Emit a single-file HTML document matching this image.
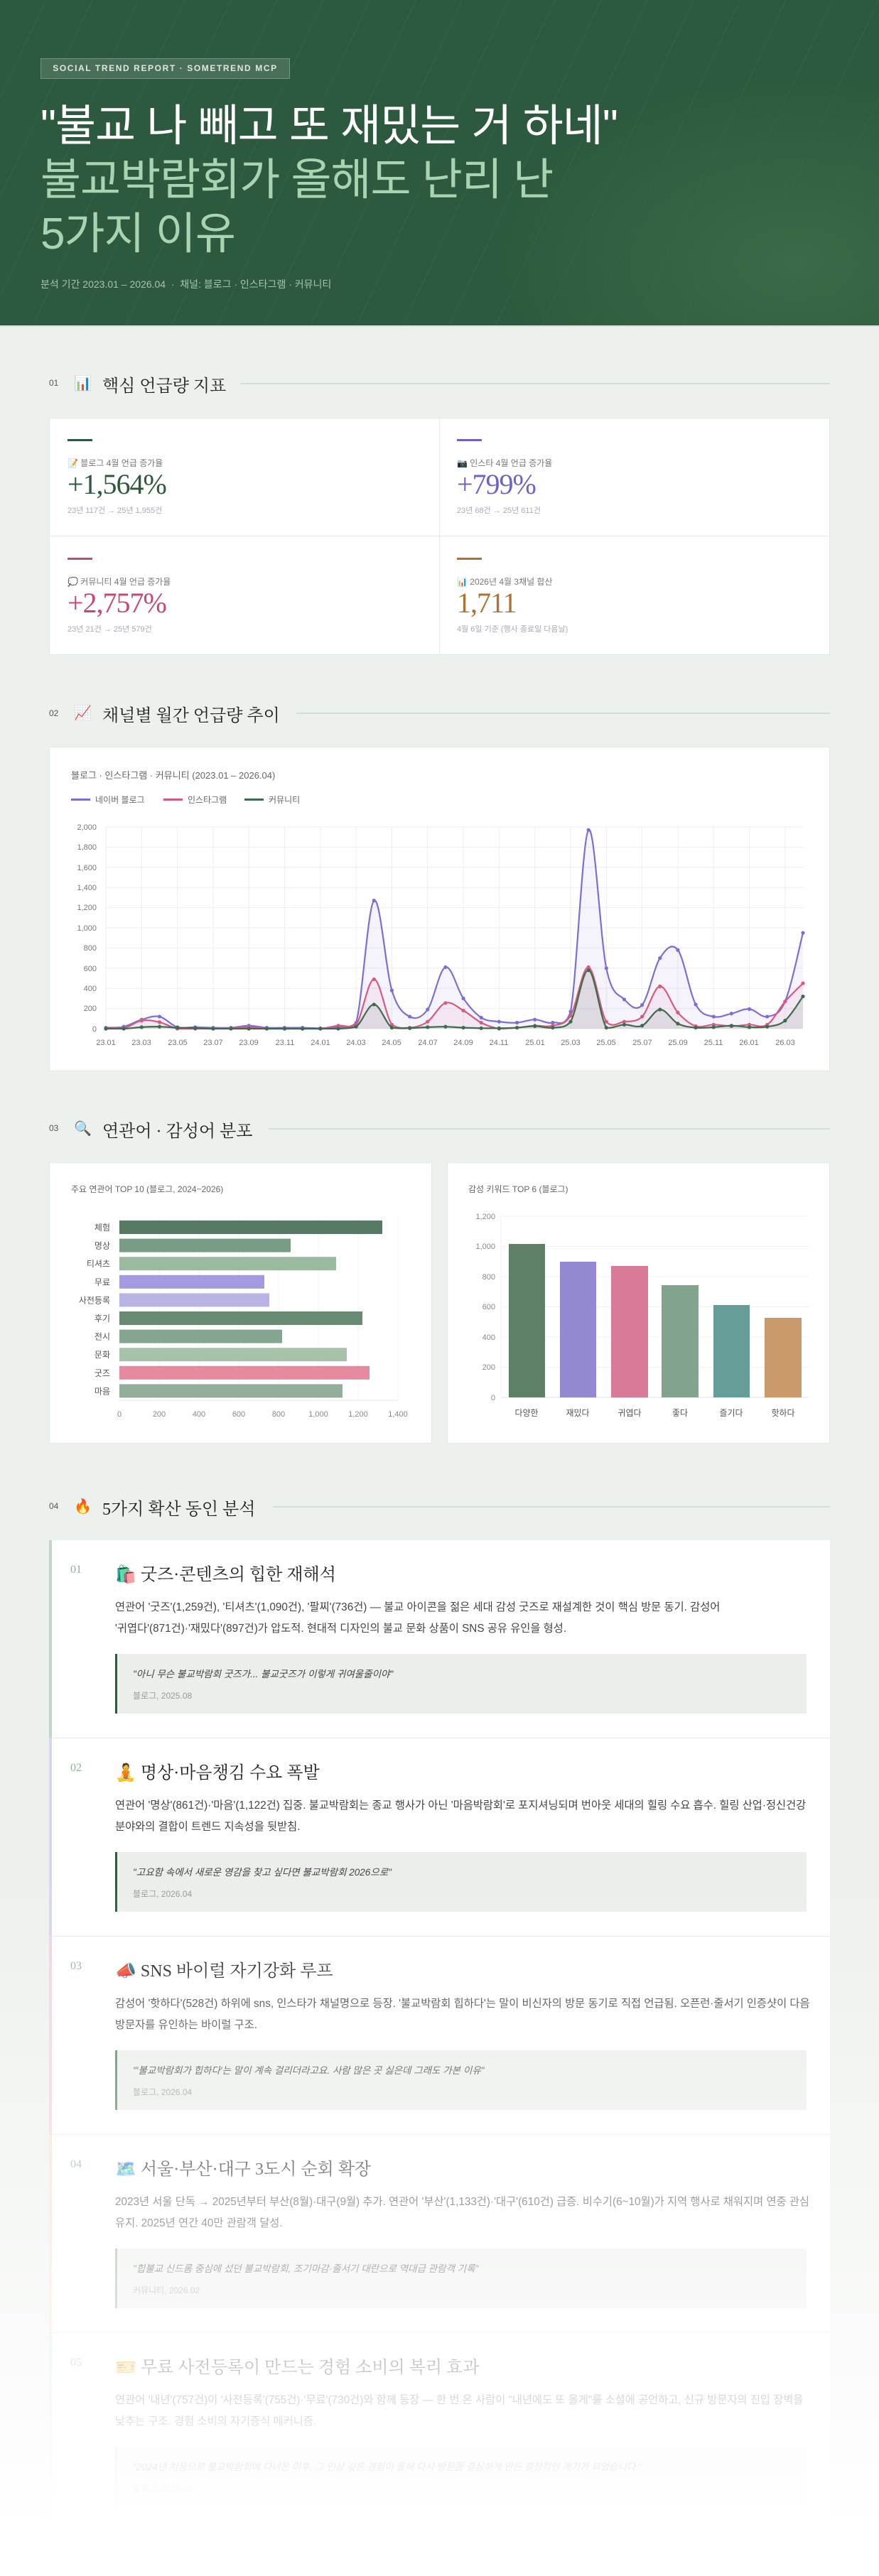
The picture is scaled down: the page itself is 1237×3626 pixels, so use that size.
<!DOCTYPE html>
<html><head><meta charset="utf-8">
<style>
*{margin:0;padding:0;box-sizing:border-box}
body{width:1237px;height:3626px;overflow:hidden;background:#edf1ed;font-family:"Liberation Sans","Noto Sans CJK KR",sans-serif;position:relative;color:#333}
.abs{position:absolute}
.serif{font-family:"Liberation Serif","Noto Serif CJK KR",serif}
#hdr{left:0;top:0;width:1237px;height:460px;background:radial-gradient(ellipse 420px 260px at 1120px 370px,#3a6a48 0%,rgba(58,106,72,0) 100%),repeating-linear-gradient(115deg,rgba(255,255,255,0) 0 58px,rgba(255,255,255,0.035) 58px 59px),#2d5a3e;border-bottom:2px solid #d9e1da}
.badge{left:57px;top:82px;width:351px;height:29px;background:rgba(255,255,255,0.13);border:1px solid rgba(255,255,255,0.25);color:#dfe8df;font-size:12px;letter-spacing:1.6px;font-weight:bold;line-height:27px;text-align:center}
.t1{left:57px;top:140px;font-size:62px;line-height:76px;color:#fff;letter-spacing:-1px;white-space:nowrap}
.t2{left:57px;top:216px;font-size:62px;line-height:76px;color:#a8d4b2;letter-spacing:-1px;white-space:nowrap}
.sub{left:57px;top:390px;font-size:14px;color:#a9c1ae}
.sec{font-size:24px;color:#222;white-space:nowrap}
.secn{font-size:12px;color:#555;font-family:"Liberation Sans",sans-serif}
.secl{height:2px;background:#d7ded8}
.card{background:#fff;border:1px solid #e4e9e5}
.kbar{width:35px;height:3px}
.klab{font-size:12px;color:#777;white-space:nowrap}
.knum{font-size:40px;white-space:nowrap;letter-spacing:-1px}
.ksub{font-size:11px;color:#aab;white-space:nowrap}
.item{left:69px;width:1099px;height:279px;background:#fff;border-left:4px solid #c5d3c8;border-bottom:1px solid #e6ebe7}
.inum{position:absolute;left:26px;top:33px;font-size:16px;color:#8fb09a}
.ititle{position:absolute;left:89px;top:28px;font-size:24px;color:#222;white-space:nowrap}
.ipara{position:absolute;left:89px;top:80px;width:980px;font-size:15.3px;line-height:30px;color:#444;word-break:keep-all}
.iq{position:absolute;left:89px;top:160px;width:973px;height:84px;background:#ebeeeb;border-left:3px solid #2d5a3c;padding:17px 0 0 22px}
.iq .q{font-size:13.5px;font-style:italic;color:#444;white-space:nowrap}
.iq .s{font-size:12px;color:#999;margin-top:13px}
</style></head><body>
<div id="hdr" class="abs"></div>
<div class="abs badge">SOCIAL TREND REPORT · SOMETREND MCP</div>
<div class="abs t1">"불교 나 빼고 또 재밌는 거 하네"</div>
<div class="abs t2">불교박람회가 올해도 난리 난<br>5가지 이유</div>
<div class="abs sub">분석 기간 2023.01 – 2026.04 &nbsp;·&nbsp; 채널: 블로그 · 인스타그램 · 커뮤니티</div>

<!-- section 01 -->
<div class="abs secn" style="left:69px;top:532px">01</div>
<div class="abs" style="left:104px;top:527px;font-size:20px">📊</div>
<div class="abs sec serif" style="left:144px;top:523px">핵심 언급량 지표</div>
<div class="abs secl" style="left:338px;top:539px;width:830px"></div>

<div class="abs card" style="left:69px;top:588px;width:1099px;height:334px"></div>
<div class="abs" style="left:618px;top:588px;width:1px;height:334px;background:#e6ebe7"></div>
<div class="abs" style="left:69px;top:754px;width:1099px;height:1px;background:#e6ebe7"></div>

<div class="abs kbar" style="left:95px;top:618px;background:#2d5a3c"></div>
<div class="abs klab" style="left:95px;top:643px">📝 블로그 4월 언급 증가율</div>
<div class="abs knum serif" style="left:95px;top:658px;color:#2d5a3c">+1,564%</div>
<div class="abs ksub" style="left:95px;top:710px">23년 117건 → 25년 1,955건</div>

<div class="abs kbar" style="left:643px;top:618px;background:#6e62c8"></div>
<div class="abs klab" style="left:643px;top:643px">📷 인스타 4월 언급 증가율</div>
<div class="abs knum serif" style="left:643px;top:658px;color:#6e62c8">+799%</div>
<div class="abs ksub" style="left:643px;top:710px">23년 68건 → 25년 611건</div>

<div class="abs kbar" style="left:95px;top:785px;background:#c8496e"></div>
<div class="abs klab" style="left:95px;top:810px">💭 커뮤니티 4월 언급 증가율</div>
<div class="abs knum serif" style="left:95px;top:825px;color:#c8496e">+2,757%</div>
<div class="abs ksub" style="left:95px;top:877px">23년 21건 → 25년 579건</div>

<div class="abs kbar" style="left:643px;top:785px;background:#b07230"></div>
<div class="abs klab" style="left:643px;top:810px">📊 2026년 4월 3채널 합산</div>
<div class="abs knum serif" style="left:643px;top:825px;color:#b07230">1,711</div>
<div class="abs ksub" style="left:643px;top:877px">4월 6일 기준 (행사 종료일 다음날)</div>

<!-- section 02 -->
<div class="abs secn" style="left:69px;top:997px">02</div>
<div class="abs" style="left:104px;top:991px;font-size:20px">📈</div>
<div class="abs sec serif" style="left:144px;top:987px">채널별 월간 언급량 추이</div>
<div class="abs secl" style="left:417px;top:1003px;width:751px"></div>

<div class="abs card" style="left:69px;top:1051px;width:1099px;height:457px"></div>
<div class="abs" style="left:100px;top:1081px;font-size:13px;color:#666">블로그 · 인스타그램 · 커뮤니티 (2023.01 – 2026.04)</div>
<div class="abs" style="left:100px;top:1124px;width:27px;height:3px;background:#7b6fd6"></div>
<div class="abs" style="left:134px;top:1117px;font-size:12px;color:#666">네이버 블로그</div>
<div class="abs" style="left:230px;top:1124px;width:27px;height:3px;background:#d65a80"></div>
<div class="abs" style="left:264px;top:1117px;font-size:12px;color:#666">인스타그램</div>
<div class="abs" style="left:344px;top:1124px;width:27px;height:3px;background:#3d6b4b"></div>
<div class="abs" style="left:378px;top:1117px;font-size:12px;color:#666">커뮤니티</div>

<svg class="abs" style="left:0;top:1051px" width="1237" height="460" font-family="Liberation Sans, sans-serif" font-size="11" fill="#777">
<g id="grid" stroke="#eeeeee" stroke-width="1"></g>
<g text-anchor="end">
<text x="136" y="117">2,000</text><text x="136" y="145">1,800</text><text x="136" y="174">1,600</text><text x="136" y="202">1,400</text><text x="136" y="230">1,200</text><text x="136" y="259">1,000</text><text x="136" y="287">800</text><text x="136" y="316">600</text><text x="136" y="344">400</text><text x="136" y="372">200</text><text x="136" y="401">0</text>
</g>
<g id="xl" text-anchor="middle">
<text x="149" y="420">23.01</text><text x="199" y="420">23.03</text><text x="250" y="420">23.05</text><text x="300" y="420">23.07</text><text x="350" y="420">23.09</text><text x="401" y="420">23.11</text><text x="451" y="420">24.01</text><text x="501" y="420">24.03</text><text x="551" y="420">24.05</text><text x="602" y="420">24.07</text><text x="652" y="420">24.09</text><text x="702" y="420">24.11</text><text x="753" y="420">25.01</text><text x="803" y="420">25.03</text><text x="853" y="420">25.05</text><text x="904" y="420">25.07</text><text x="954" y="420">25.09</text><text x="1004" y="420">25.11</text><text x="1054" y="420">26.01</text><text x="1105" y="420">26.03</text>
</g>
<g id="series"></g>
</svg>

<!-- section 03 -->
<div class="abs secn" style="left:69px;top:1581px">03</div>
<div class="abs" style="left:104px;top:1576px;font-size:20px">🔍</div>
<div class="abs sec serif" style="left:144px;top:1572px">연관어 · 감성어 분포</div>
<div class="abs secl" style="left:378px;top:1588px;width:790px"></div>

<div class="abs card" style="left:69px;top:1636px;width:539px;height:396px"></div>
<div class="abs card" style="left:629px;top:1636px;width:539px;height:396px"></div>
<div class="abs" style="left:100px;top:1665px;font-size:12px;color:#666">주요 연관어 TOP 10 (블로그, 2024~2026)</div>
<div class="abs" style="left:659px;top:1665px;font-size:12px;color:#666">감성 키워드 TOP 6 (블로그)</div>

<svg class="abs" style="left:0;top:1636px" width="1237" height="396" font-family="Liberation Sans, Noto Sans CJK KR, sans-serif" font-size="11" fill="#666">
<g stroke="#f0f0f0"><line x1="168" y1="75" x2="168" y2="335"/><line x1="224" y1="75" x2="224" y2="335"/><line x1="280" y1="75" x2="280" y2="335"/><line x1="336" y1="75" x2="336" y2="335"/><line x1="392" y1="75" x2="392" y2="335"/><line x1="448" y1="75" x2="448" y2="335"/><line x1="504" y1="75" x2="504" y2="335"/><line x1="560" y1="75" x2="560" y2="335"/></g>
<line x1="168" y1="335" x2="560" y2="335" stroke="#e5e5e5"/>
<g text-anchor="middle" fill="#888"><text x="168" y="358">0</text><text x="224" y="358">200</text><text x="280" y="358">400</text><text x="336" y="358">600</text><text x="392" y="358">800</text><text x="448" y="358">1,000</text><text x="504" y="358">1,200</text><text x="560" y="358">1,400</text></g>
<g>
<rect x="168" y="82" width="370" height="19" fill="#587a64"/>
<rect x="168" y="107.6" width="241" height="19" fill="#789c84"/>
<rect x="168" y="133.2" width="305" height="19" fill="#9abba0"/>
<rect x="168" y="158.8" width="204" height="19" fill="#a39be0"/>
<rect x="168" y="184.4" width="211" height="19" fill="#b9b4e6"/>
<rect x="168" y="210" width="342" height="19" fill="#688a72"/>
<rect x="168" y="235.6" width="229" height="19" fill="#86a590"/>
<rect x="168" y="261.2" width="320" height="19" fill="#a6c3aa"/>
<rect x="168" y="286.8" width="352" height="19" fill="#e68aa0"/>
<rect x="168" y="312.4" width="314" height="19" fill="#93ae9a"/>
</g>
<g text-anchor="end" font-size="12" fill="#555">
<text x="155" y="96">체험</text><text x="155" y="121.6">명상</text><text x="155" y="147.2">티셔츠</text><text x="155" y="172.8">무료</text><text x="155" y="198.4">사전등록</text><text x="155" y="224">후기</text><text x="155" y="249.6">전시</text><text x="155" y="275.2">문화</text><text x="155" y="300.8">굿즈</text><text x="155" y="326.4">마음</text>
</g>
<g stroke="#f0f0f0"><line x1="705" y1="76" x2="1138" y2="76"/><line x1="705" y1="118.5" x2="1138" y2="118.5"/><line x1="705" y1="161" x2="1138" y2="161"/><line x1="705" y1="203.5" x2="1138" y2="203.5"/><line x1="705" y1="246" x2="1138" y2="246"/><line x1="705" y1="288.5" x2="1138" y2="288.5"/><line x1="705" y1="76" x2="705" y2="331"/></g>
<line x1="705" y1="331" x2="1138" y2="331" stroke="#e2e2e2"/>
<g text-anchor="end" fill="#888"><text x="697" y="80">1,200</text><text x="697" y="122">1,000</text><text x="697" y="165">800</text><text x="697" y="207">600</text><text x="697" y="250">400</text><text x="697" y="292">200</text><text x="697" y="335">0</text></g>
<rect x="716" y="115" width="51" height="216" fill="#5e8066"/>
<rect x="788" y="140" width="51" height="191" fill="#9389d2"/>
<rect x="860" y="146" width="52" height="185" fill="#d97b96"/>
<rect x="931" y="173" width="52" height="158" fill="#82a38c"/>
<rect x="1004" y="201" width="51" height="130" fill="#659e99"/>
<rect x="1076" y="219" width="52" height="112" fill="#c89a6c"/>
<g text-anchor="middle" font-size="12" fill="#555"><text x="741" y="357">다양한</text><text x="813" y="357">재밌다</text><text x="886" y="357">귀엽다</text><text x="957" y="357">좋다</text><text x="1029" y="357">즐기다</text><text x="1102" y="357">핫하다</text></g>
</svg>

<!-- section 04 -->
<div class="abs secn" style="left:69px;top:2113px">04</div>
<div class="abs" style="left:104px;top:2108px;font-size:20px">🔥</div>
<div class="abs sec serif" style="left:144px;top:2104px">5가지 확산 동인 분석</div>
<div class="abs secl" style="left:384px;top:2120px;width:784px"></div>

<div class="abs item" style="top:2168px;border-left-color:#c5d3c8">
<div class="inum serif">01</div>
<div class="ititle serif">🛍️ 굿즈·콘텐츠의 힙한 재해석</div>
<div class="ipara">연관어 '굿즈'(1,259건), '티셔츠'(1,090건), '팔찌'(736건) — 불교 아이콘을 젊은 세대 감성 굿즈로 재설계한 것이 핵심 방문 동기. 감성어 '귀엽다'(871건)·'재밌다'(897건)가 압도적. 현대적 디자인의 불교 문화 상품이 SNS 공유 유인을 형성.</div>
<div class="iq"><div class="q">"아니 무슨 불교박람회 굿즈가... 불교굿즈가 이렇게 귀여울줄이야"</div><div class="s">블로그, 2025.08</div></div>
</div>
<div class="abs item" style="top:2447px;border-left-color:#d8d4f2">
<div class="inum serif">02</div>
<div class="ititle serif">🧘 명상·마음챙김 수요 폭발</div>
<div class="ipara">연관어 '명상'(861건)·'마음'(1,122건) 집중. 불교박람회는 종교 행사가 아닌 '마음박람회'로 포지셔닝되며 번아웃 세대의 힐링 수요 흡수. 힐링 산업·정신건강 분야와의 결합이 트렌드 지속성을 뒷받침.</div>
<div class="iq"><div class="q">"고요함 속에서 새로운 영감을 찾고 싶다면 불교박람회 2026으로"</div><div class="s">블로그, 2026.04</div></div>
</div>
<div class="abs item" style="top:2726px;border-left-color:#f3d3db">
<div class="inum serif">03</div>
<div class="ititle serif">📣 SNS 바이럴 자기강화 루프</div>
<div class="ipara">감성어 '핫하다'(528건) 하위에 sns, 인스타가 채널명으로 등장. '불교박람회 힙하다'는 말이 비신자의 방문 동기로 직접 언급됨. 오픈런·줄서기 인증샷이 다음 방문자를 유인하는 바이럴 구조.</div>
<div class="iq" style="border-left-color:#5e8066"><div class="q">"'불교박람회가 힙하다'는 말이 계속 걸리더라고요. 사람 많은 곳 싫은데 그래도 가본 이유"</div><div class="s">블로그, 2026.04</div></div>
</div>
<div class="abs item" style="top:3005px;border-left-color:#f2e2cf">
<div class="inum serif">04</div>
<div class="ititle serif">🗺️ 서울·부산·대구 3도시 순회 확장</div>
<div class="ipara">2023년 서울 단독 → 2025년부터 부산(8월)·대구(9월) 추가. 연관어 '부산'(1,133건)·'대구'(610건) 급증. 비수기(6~10월)가 지역 행사로 채워지며 연중 관심 유지. 2025년 연간 40만 관람객 달성.</div>
<div class="iq" style="border-left-color:#8fb09a"><div class="q">"힙불교 신드롬 중심에 섰던 불교박람회, 조기마감·줄서기 대란으로 역대급 관람객 기록"</div><div class="s">커뮤니티, 2026.02</div></div>
</div>
<div class="abs item" style="top:3284px;border-left-color:#d5e6ea">
<div class="inum serif">05</div>
<div class="ititle serif">🎫 무료 사전등록이 만드는 경험 소비의 복리 효과</div>
<div class="ipara">연관어 '내년'(757건)이 '사전등록'(755건)·'무료'(730건)와 함께 등장 — 한 번 온 사람이 "내년에도 또 올게"를 소셜에 공언하고, 신규 방문자의 진입 장벽을 낮추는 구조. 경험 소비의 자기증식 메커니즘.</div>
<div class="iq" style="border-left-color:#c5d3c8"><div class="q">"2024년 처음으로 불교박람회에 다녀온 이후, 그 인상 깊은 경험이 올해 다시 방문을 결심하게 만든 결정적인 계기가 되었습니다."</div><div class="s">블로그, 2025.04</div></div>
</div>

<div class="abs" style="left:0;top:2640px;width:1237px;height:986px;background:linear-gradient(to bottom,rgba(255,255,255,0) 0%,rgba(255,255,255,0.3) 30%,rgba(255,255,255,0.62) 60%,rgba(255,255,255,0.85) 80%,#fff 94%)"></div>

<script>
(function(){
var NS="http://www.w3.org/2000/svg";
var x0=149,step=(1130-149)/39,y0=397,sc=284/2000;
var grid=document.getElementById('grid');
function el(n,a,p){var e=document.createElementNS(NS,n);for(var k in a)e.setAttribute(k,a[k]);p.appendChild(e);return e;}
for(var v=0;v<=2000;v+=200){var y=y0-v*sc;el('line',{x1:x0,x2:1130,y1:y,y2:y},grid);}
for(var i=0;i<40;i+=2){var x=x0+i*step;el('line',{x1:x,x2:x,y1:113,y2:y0},grid);}
var blog=[10,20,90,120,15,15,10,10,30,10,10,10,5,15,60,1270,380,120,190,610,300,110,70,60,90,60,170,1970,600,290,235,700,780,240,120,150,195,120,270,950];
var ins=[5,5,80,65,0,0,0,5,15,0,0,0,0,30,40,490,40,10,70,255,180,60,0,10,30,30,130,610,70,70,120,420,160,25,40,25,40,40,270,450];
var com=[0,0,15,20,10,5,0,0,0,0,0,0,0,0,20,240,10,5,15,20,10,5,5,10,25,10,70,580,10,40,30,190,50,10,15,30,15,20,80,320];
var g=document.getElementById('series');
function path(d){var p=d.map(function(v,i){return [x0+i*step,y0-v*sc];});var s="M"+p[0][0]+","+p[0][1];
for(var i=0;i<p.length-1;i++){var a=p[i-1]||p[i],b=p[i],c=p[i+1],e=p[i+2]||c;var t=0.17;
var c1x=b[0]+(c[0]-a[0])*t,c1y=b[1]+(c[1]-a[1])*t,c2x=c[0]-(e[0]-b[0])*t,c2y=c[1]-(e[1]-b[1])*t;
c1y=Math.min(c1y,y0);c2y=Math.min(c2y,y0);
s+=" C"+c1x.toFixed(1)+","+c1y.toFixed(1)+" "+c2x.toFixed(1)+","+c2y.toFixed(1)+" "+c[0].toFixed(1)+","+c[1].toFixed(1);}
return {s:s,p:p};}
[[blog,'#7b6fd6','rgba(123,111,214,0.08)'],[ins,'#d65a80','rgba(214,90,128,0.08)'],[com,'#3d6b4b','rgba(61,107,75,0.1)']].forEach(function(q){
var r=path(q[0]);el('path',{d:r.s+" L1130,"+y0+" L"+x0+","+y0+" Z",fill:q[2],stroke:'none'},g);
el('path',{d:r.s,fill:'none',stroke:q[1],'stroke-width':2.2},g);
r.p.forEach(function(pt){el('circle',{cx:pt[0],cy:pt[1],r:2.6,fill:q[1]},g);});});
})();
</script>
</body></html>
